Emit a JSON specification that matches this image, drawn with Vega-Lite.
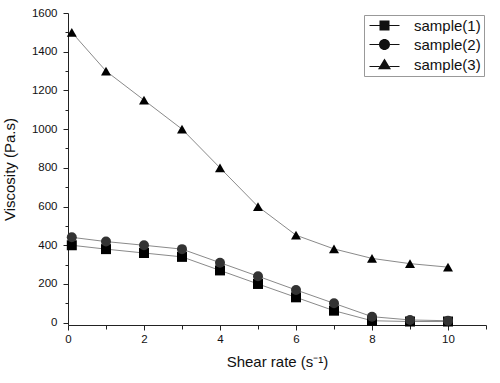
{
  "$schema": "https://vega.github.io/schema/vega-lite/v6.json",
  "autosize": "none",
  "width": 418,
  "height": 312,
  "padding": {"left": 68, "top": 13, "right": 14, "bottom": 58},
  "background": "white",
  "config": {
    "font": "Liberation Sans",
    "view": {"stroke": null},
    "axis": {"grid": false, "domainColor": "#222", "tickColor": "#222", "labelColor": "#111", "titleColor": "#111", "labelFont": "Liberation Sans", "titleFont": "Liberation Sans", "labelFontSize": 11.5, "titleFontSize": 15, "titleFontWeight": "normal"}
  },
  "data": {
    "values": [
      {"x": 0.1, "v": 400, "series": "sample(1)"},
      {"x": 1, "v": 380, "series": "sample(1)"},
      {"x": 2, "v": 360, "series": "sample(1)"},
      {"x": 3, "v": 340, "series": "sample(1)"},
      {"x": 4, "v": 270, "series": "sample(1)"},
      {"x": 5, "v": 200, "series": "sample(1)"},
      {"x": 6, "v": 131, "series": "sample(1)"},
      {"x": 7, "v": 62, "series": "sample(1)"},
      {"x": 8, "v": 10, "series": "sample(1)"},
      {"x": 9, "v": 6, "series": "sample(1)"},
      {"x": 10, "v": 6, "series": "sample(1)"},
      {"x": 0.1, "v": 441, "series": "sample(2)"},
      {"x": 1, "v": 419, "series": "sample(2)"},
      {"x": 2, "v": 400, "series": "sample(2)"},
      {"x": 3, "v": 380, "series": "sample(2)"},
      {"x": 4, "v": 310, "series": "sample(2)"},
      {"x": 5, "v": 240, "series": "sample(2)"},
      {"x": 6, "v": 169, "series": "sample(2)"},
      {"x": 7, "v": 100, "series": "sample(2)"},
      {"x": 8, "v": 31, "series": "sample(2)"},
      {"x": 9, "v": 14, "series": "sample(2)"},
      {"x": 10, "v": 10, "series": "sample(2)"},
      {"x": 0.1, "v": 1500, "series": "sample(3)"},
      {"x": 1, "v": 1300, "series": "sample(3)"},
      {"x": 2, "v": 1150, "series": "sample(3)"},
      {"x": 3, "v": 1000, "series": "sample(3)"},
      {"x": 4, "v": 800, "series": "sample(3)"},
      {"x": 5, "v": 600, "series": "sample(3)"},
      {"x": 6, "v": 452, "series": "sample(3)"},
      {"x": 7, "v": 381, "series": "sample(3)"},
      {"x": 8, "v": 332, "series": "sample(3)"},
      {"x": 9, "v": 305, "series": "sample(3)"},
      {"x": 10, "v": 287, "series": "sample(3)"}
    ]
  },
  "encoding": {
    "x": {
      "field": "x", "type": "quantitative",
      "scale": {"domain": [0, 11], "nice": false, "zero": false},
      "axis": {
        "title": "Shear rate (s⁻¹)",
        "values": [0, 1, 2, 3, 4, 5, 6, 7, 8, 9, 10, 11],
        "labelExpr": "datum.value % 2 == 0 && datum.value <= 10 ? datum.label : ''",
        "tickSize": {"condition": {"test": "datum.value % 2 == 0", "value": 5}, "value": 4},
        "labelPadding": 3,
        "titlePadding": 10,
        "labelFlush": false
      }
    },
    "y": {
      "field": "v", "type": "quantitative",
      "scale": {"domain": [-12, 1600], "nice": false, "zero": false},
      "axis": {
        "title": "Viscosity (Pa.s)",
        "values": [0, 100, 200, 300, 400, 500, 600, 700, 800, 900, 1000, 1100, 1200, 1300, 1400, 1500, 1600],
        "labelExpr": "datum.value % 200 == 0 ? datum.label : ''",
        "tickSize": {"condition": {"test": "datum.value % 200 == 0", "value": 5}, "value": 3},
        "format": "d",
        "labelPadding": 6,
        "titlePadding": 14,
        "labelFlush": false
      }
    }
  },
  "layer": [
    {
      "mark": {"type": "line", "color": "#8a8a8a", "strokeWidth": 1},
      "encoding": {"detail": {"field": "series"}}
    },
    {
      "mark": {"type": "point", "filled": true, "opacity": 1, "size": 100},
      "encoding": {
        "shape": {
          "field": "series", "type": "nominal",
          "scale": {"domain": ["sample(1)", "sample(2)", "sample(3)"], "range": ["square", "circle", "triangle-up"]},
          "legend": null
        },
        "fill": {
          "field": "series", "type": "nominal",
          "scale": {"domain": ["sample(1)", "sample(2)", "sample(3)"], "range": ["#000000", "#333333", "#000000"]},
          "legend": null
        }
      }
    },
    {
      "mark": {"type": "point", "filled": true, "color": "#111111", "opacity": 0, "size": 100},
      "encoding": {
        "shape": {
          "field": "series", "type": "nominal",
          "scale": {"domain": ["sample(1)", "sample(2)", "sample(3)"], "range": [
            "M-3,-0.08H-1V0.08H-3ZM1,-0.08H3V0.08H1ZM-1,-1H1V1H-1Z",
            "M-3,-0.08H-1.1V0.08H-3ZM1.1,-0.08H3V0.08H1.1ZM-1.1,0A1.1,1.1 0 1,0 1.1,0A1.1,1.1 0 1,0 -1.1,0Z",
            "M-3,0.32H-1V0.48H-3ZM1,0.32H3V0.48H1ZM0,-1.2L1.3,0.95H-1.3Z"
          ]},
          "legend": {
            "title": null, "orient": "top-right", "offset": 2, "strokeColor": "#999", "padding": 3,
            "labelFontSize": 15, "labelFont": "Liberation Sans", "labelColor": "#111",
            "symbolSize": 100, "rowPadding": 2, "symbolOffset": 10, "labelOffset": 22, "fillColor": "white",
            "symbolOpacity": 1
          }
        }
      }
    }
  ],
  "resolve": {"scale": {"shape": "independent"}, "legend": {"shape": "independent"}}
}
